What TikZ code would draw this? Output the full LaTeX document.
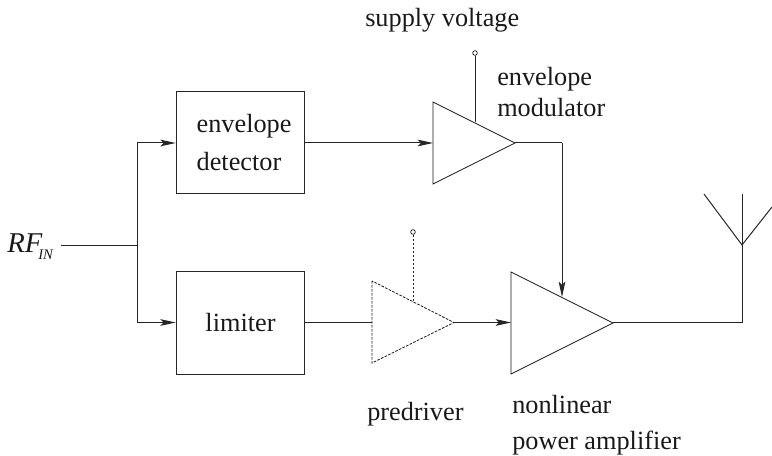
\documentclass[tikz,border=0pt]{standalone}
\usepackage{fontspec}
\setmainfont{Liberation Serif}
\usetikzlibrary{arrows.meta}
\tikzset{
 x=0.75pt,y=-0.75pt,
 wire/.style={line width=0.75pt,black!85},
 arr/.style={wire,-{Stealth[length=11.5pt,width=5pt,inset=2.5pt]}},
 boxn/.style={draw,line width=0.75pt,black!85,text=black!90,minimum width=96.5pt,minimum height=76.5pt,inner sep=0pt,font=\fontsize{19.7}{28.5}\selectfont},
 lbl/.style={font=\fontsize{19.7}{20}\selectfont,inner sep=0pt,anchor=base west,text=black!90},
 amp/.style={draw,line width=0.6pt,black!90,line join=miter},
 term/.style={draw,fill=white,circle,minimum size=3.5pt,inner sep=0pt,line width=0.5pt},
 dashy/.style={dash pattern=on 2pt off 1pt}
}
\begin{document}
\begin{tikzpicture}
\useasboundingbox (0,0) rectangle (772,456);
\node[boxn,text width=96.5pt,align=left] (det) at (240.5,143) {\hspace*{15.4pt}envelope\\\hspace*{15.4pt}detector};
\node[boxn,align=center] (lim) at (240.5,323) {limiter};
\coordinate (junc) at (137.5,245.5);
\coordinate (rfend) at (61,245.5);
\draw[wire] (rfend) -- (junc);
\draw[arr] (junc) |- (det.west|-0,143);
\draw[arr] (junc) |- (lim.west|-0,322.5);
\coordinate (e1) at (433,102); \coordinate (e2) at (433,184); \coordinate (e3) at (515,143);
\draw[amp] (e1) -- (e2) -- (e3) -- cycle;
\draw[arr] (det.east|-0,143) -- (433,143);
\node[term] (t1) at (475,53) {};
\draw[wire] (t1) -- (475,122);
\coordinate (p1) at (372,281); \coordinate (p2) at (372,363); \coordinate (p3) at (454,322.5);
\draw[amp,dashy] (p1) -- (p2) -- (p3) -- cycle;
\draw[wire] (lim.east|-0,322.5) -- (372,322.5);
\node[term] (t2) at (413,232) {};
\draw[wire,dashy] (t2) -- (413,301);
\draw[arr] (p3) -- (511,322.5);
\coordinate (a1) at (511,272); \coordinate (a2) at (511,374); \coordinate (a3) at (613,323);
\draw[amp] (a1) -- (a2) -- (a3) -- cycle;
\draw[wire] (e3) -- (562,143);
\draw[arr] (562,143) -- (562,297);
\coordinate (antb) at (742,323);
\coordinate (antm) at (742,245);
\draw[wire] (a3) -- (antb) -- (antm);
\draw[wire] (704,194) -- (antm) -- (772,207);
\draw[wire] (742,194) -- (antm);
\node[lbl] (l1) at (365,27) {supply voltage};
\node[lbl] (l2) at (497,86) {envelope};
\node[lbl] (l3) at (497,117) {modulator};
\node[lbl] (l4) at (367,420) {predriver};
\node[lbl] (l5) at (512,413) {nonlinear};
\node[lbl] (l6) at (512,449.5) {power amplifier};
\node[lbl,font=\fontsize{21.5}{22}\selectfont\itshape] (rf) at (7,253) {RF\kern-3pt\raisebox{-5pt}{\fontsize{11}{11}\selectfont IN}};
\end{tikzpicture}
\end{document}
